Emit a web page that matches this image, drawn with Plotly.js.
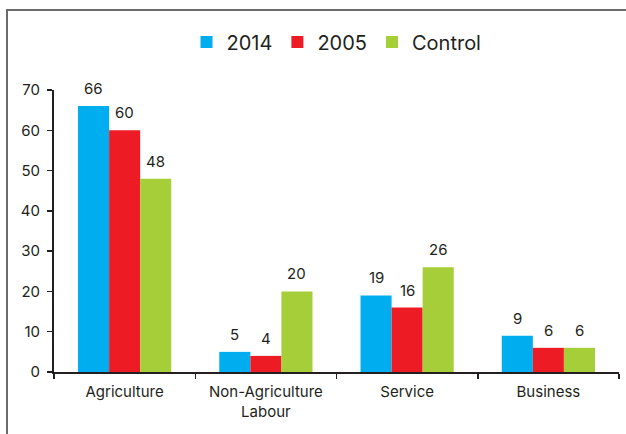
<!DOCTYPE html>
<html>
<head>
<meta charset="utf-8">
<script src="https://cdn.plot.ly/plotly-3.0.1.min.js"></script>
<style>
  html, body { margin: 0; padding: 0; background: #fff; }
  #wrap { position: relative; width: 626px; height: 434px; overflow: hidden; }
  #chart { position: absolute; left: 0; top: 0; width: 626px; height: 434px; }
  #frame { position: absolute; left: 6px; top: 9px; width: 700px; height: 500px;
           border-top: 2px solid #6b6b6b; border-left: 2px solid #6b6b6b; pointer-events: none; }
</style>
</head>
<body>
<div id="wrap">
  <div id="chart"></div>
  <div id="frame"></div>
</div>
<script>
const categories = ["Agriculture", "Non-Agriculture<br>Labour", "Service", "Business"];
const seriesNames = ["2014", "2005", "Control"];
const values2014 = [66, 5, 19, 9];
const values2005 = [60, 4, 16, 6];
const valuesControl = [48, 20, 26, 6];
const colors = ["#00aeef", "#ed1c24", "#a6ce39"];
const yTicks = [0, 10, 20, 30, 40, 50, 60, 70];

const FONT = "Inter, Arial, 'Liberation Sans', sans-serif";
const W = 626, H = 434;
const margin = { l: 54, r: 7, t: 90, b: 62 };
const bargap = 0.34;

const allValues = [values2014, values2005, valuesControl];
const traces = allValues.map((vals, i) => ({
  type: "bar",
  name: seriesNames[i],
  x: categories,
  y: vals,
  marker: { color: colors[i], line: { width: 0 } },
  hoverinfo: "x+y+name"
}));

// value labels, placed on each bar via axis coordinates + group offset derived from layout
const plotW = W - margin.l - margin.r;
const barW = plotW / categories.length * (1 - bargap) / allValues.length;
const annotations = [];
allValues.forEach((vals, i) => {
  vals.forEach((v, j) => {
    annotations.push({
      x: categories[j], y: v, xref: "x", yref: "y",
      text: String(v), showarrow: false,
      xanchor: "center", yanchor: "bottom",
      xshift: (i - (allValues.length - 1) / 2) * barW,
      yshift: 6,
      font: { family: FONT, size: 15, color: "#231f20" }
    });
  });
});

const layout = {
  width: W,
  height: H,
  margin: margin,
  paper_bgcolor: "rgba(0,0,0,0)",
  plot_bgcolor: "rgba(0,0,0,0)",
  font: { family: FONT, color: "#231f20", size: 15 },
  barmode: "group",
  bargap: bargap,
  bargroupgap: 0,
  showlegend: true,
  legend: {
    orientation: "h",
    x: 0.5, xanchor: "center",
    y: 1.17, yanchor: "middle",
    font: { family: FONT, size: 20, color: "#231f20" },
    itemwidth: 30,
    traceorder: "normal"
  },
  annotations: annotations,
  xaxis: {
    type: "category",
    showline: true,
    linecolor: "#231f20",
    linewidth: 2,
    ticks: "outside",
    tickson: "boundaries",
    ticklen: 5,
    tickwidth: 1.5,
    tickcolor: "#231f20",
    ticklabelstandoff: 5,
    tickfont: { family: FONT, size: 15, color: "#231f20" },
    showgrid: false,
    zeroline: false
  },
  yaxis: {
    range: [0, 70],
    tickvals: yTicks,
    ticktext: yTicks.map(String),
    showline: true,
    linecolor: "#231f20",
    linewidth: 2,
    ticks: "outside",
    ticklen: 5,
    tickwidth: 1.5,
    tickcolor: "#231f20",
    ticklabelstandoff: 4,
    tickfont: { family: FONT, size: 15, color: "#231f20" },
    showgrid: false,
    zeroline: false
  }
};

Plotly.newPlot("chart", traces, layout, { displayModeBar: false, staticPlot: true });
</script>
</body>
</html>
